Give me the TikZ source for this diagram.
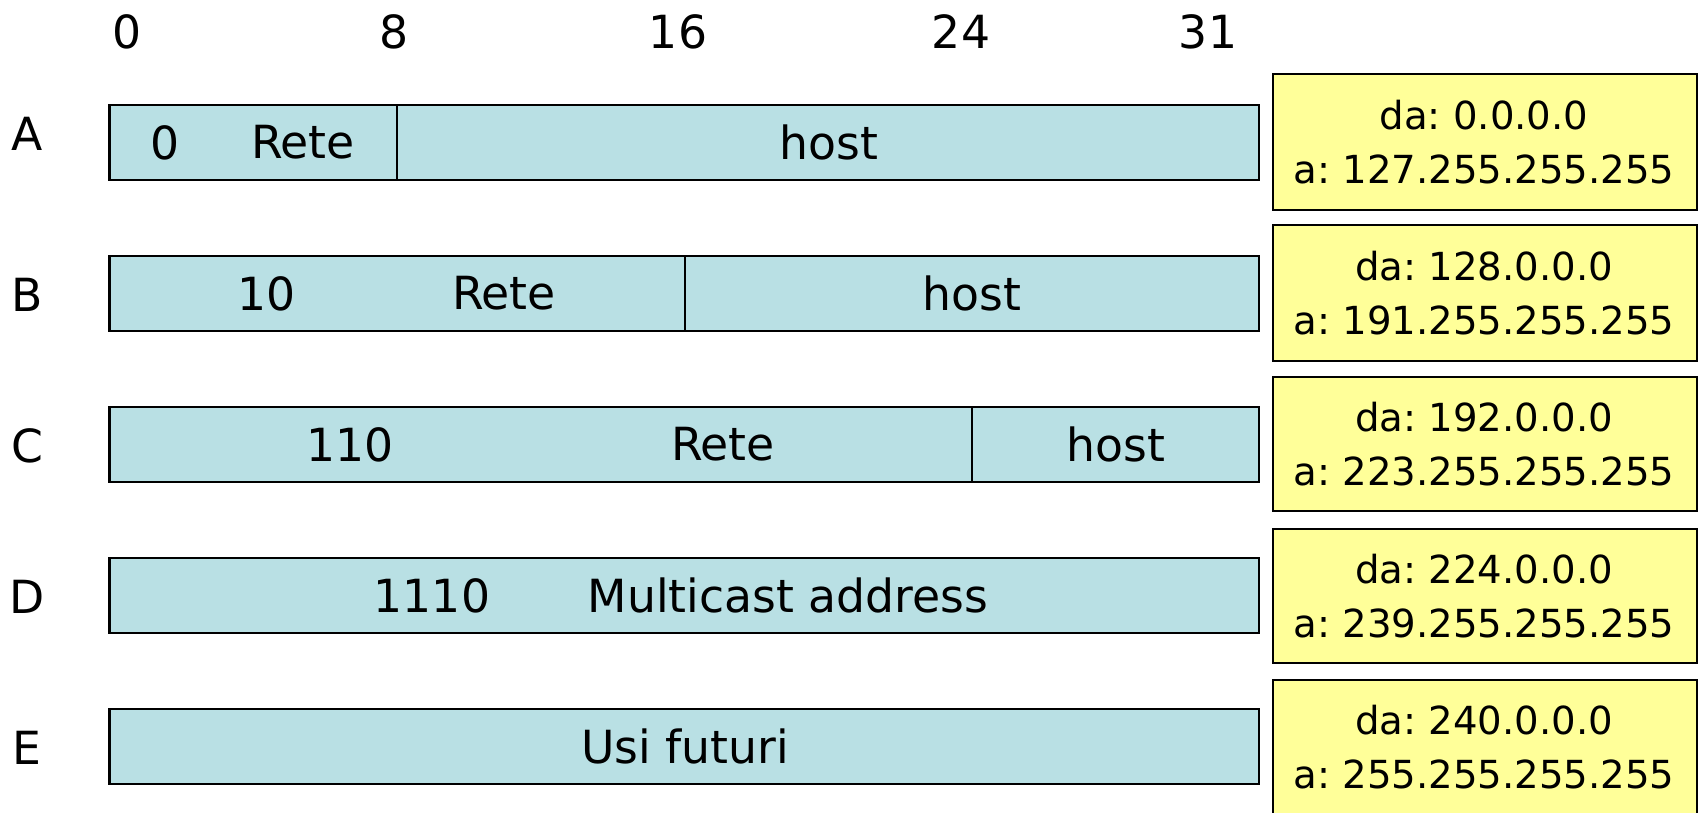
\documentclass[tikz,border=0pt]{standalone}
\usepackage{fontspec}
\setmainfont{DejaVu Sans}
\frenchspacing
\definecolor{fieldblue}{RGB}{185,224,228}
\definecolor{rangeyellow}{RGB}{255,255,153}
\tikzset{
  field/.style={draw=black, fill=fieldblue, line width=1.2pt},
  rangebox/.style={draw=black, fill=rangeyellow, line width=1.2pt},
  lbl/.style={font=\fontsize{26}{30}\selectfont, inner sep=0pt},
  rng/.style={font=\fontsize{22}{31}\selectfont, align=center, inner sep=0pt}
}
\begin{document}
\begin{tikzpicture}[x=0.02cm, y=-0.02cm]
      \useasboundingbox (0,0) rectangle (1699,813);
      \clip (0,0) rectangle (1699,813);
      % bit positions
      \path
        (127,32) node[lbl] (bit0){0}
        (394,32) node[lbl] (bit8){8}
        (678,32) node[lbl] (bit16){16}
        (961,32) node[lbl] (bit24){24}
        (1208,32) node[lbl] (bit31){31};
      % class names
      \path
        (27,134) node[lbl] (clA){A}
        (27,295) node[lbl] (clB){B}
        (27,446) node[lbl] (clC){C}
        (27,597) node[lbl] (clD){D}
        (27,748) node[lbl] (clE){E};
      % fields
      \draw[field] (109.5,105) rectangle (396.6,180);
      \draw[field] (396.6,105) rectangle (1259,180);
      \draw[field] (109.5,256) rectangle (685,331);
      \draw[field] (685,256) rectangle (1259,331);
      \draw[field] (109.5,407) rectangle (972,482);
      \draw[field] (972,407) rectangle (1259,482);
      \draw[field] (109.5,558) rectangle (1259,633);
      \draw[field] (109.5,709) rectangle (1259,784);
      \path
        (165,142.5) node[lbl] (pfxA){0}
        (303,142.5) node[lbl] (netA){Rete}
        (829,142.5) node[lbl] (hostA){host}
        (267,293.5) node[lbl] (pfxB){10}
        (504,293.5) node[lbl] (netB){Rete}
        (972,293.5) node[lbl] (hostB){host}
        (350,444.5) node[lbl] (pfxC){110}
        (723,444.5) node[lbl] (netC){Rete}
        (1116,444.5) node[lbl] (hostC){host}
        (432,595.5) node[lbl] (pfxD){1110}
        (788,595.5) node[lbl] (multiD){Multicast address}
        (685,746.5) node[lbl] (futE){Usi futuri};
      % address ranges
      \draw[rangebox] (1273,74) rectangle (1697,210);
      \draw[rangebox] (1273,225) rectangle (1697,361);
      \draw[rangebox] (1273,377) rectangle (1697,511);
      \draw[rangebox] (1273,529) rectangle (1697,663);
      \draw[rangebox] (1273,680) rectangle (1697,830);
      \path
        (1484,142) node[rng] (rngA){da: 0.0.0.0\\a: 127.255.255.255}
        (1484,293) node[rng] (rngB){da: 128.0.0.0\\a: 191.255.255.255}
        (1484,444) node[rng] (rngC){da: 192.0.0.0\\a: 223.255.255.255}
        (1484,596) node[rng] (rngD){da: 224.0.0.0\\a: 239.255.255.255}
        (1484,747) node[rng] (rngE){da: 240.0.0.0\\a: 255.255.255.255};
    \end{tikzpicture}
\end{document}
